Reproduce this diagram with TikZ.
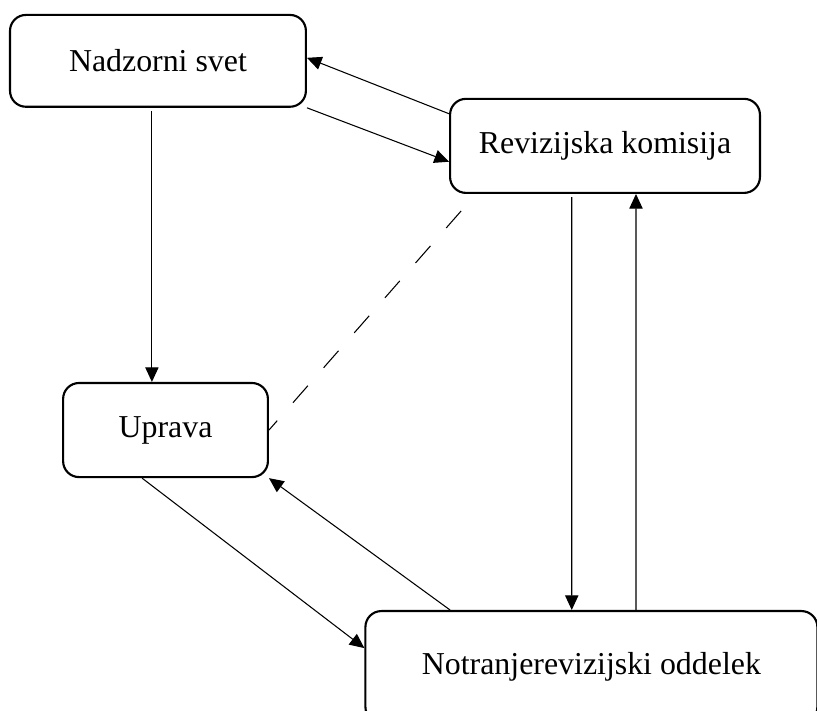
\documentclass[tikz,border=0pt]{standalone}
\usepackage{fontspec}
\setmainfont{Liberation Serif}
\usetikzlibrary{arrows.meta, positioning}

\begin{document}
\begin{tikzpicture}[node distance=10cm,
        box/.style={draw, rounded corners=12pt, line width=1.6pt, inner sep=0pt, align=center, font=\fontsize{24}{28}\selectfont},
        link/.style={line width=0.8pt, -{Triangle[length=11pt, width=10pt]}}]
        \useasboundingbox (0,0) rectangle (21.62,-18.79);
        \clip (0,0) rectangle (21.62,-18.79);

        % Nodes
        \node[box, minimum width=7.83cm, minimum height=2.43cm] (nadzorni) at (4.18,-1.61) {Nadzorni svet};
        \node[box, right of=nadzorni, xshift=1.83cm, yshift=-2.25cm, minimum width=8.2cm, minimum height=2.49cm] (revizija) {Revizijska komisija};
        \node[box, below of=nadzorni, xshift=0.2cm, yshift=0.23cm, minimum width=5.42cm, minimum height=2.49cm] (uprava) {Uprava};
        \node[box, below of=revizija, xshift=-0.36cm, yshift=-3.79cm, minimum width=11.96cm, minimum height=2.96cm] (notranje) {Notranjerevizijski oddelek};

        % Top pair of arrows
        \draw[link] (nadzorni.south east) -- ([yshift=-0.42cm]revizija.west);
        \draw[link] ([yshift=0.85cm]revizija.west) -- ([yshift=0.08cm]nadzorni.east);

        % Vertical arrows
        \draw[link] ([xshift=-0.16cm, yshift=-0.08cm]nadzorni.south) -- ([xshift=-0.36cm]uprava.north);
        \draw[link] ([xshift=-0.88cm, yshift=-0.08cm]revizija.south) -- ([xshift=-0.52cm]notranje.north);
        \draw[link] ([xshift=1.18cm]notranje.north) -- ([xshift=0.82cm]revizija.south);

        % Lower pair of arrows
        \draw[link] ([xshift=-0.62cm]uprava.south) -- ([yshift=0.5cm]notranje.west);
        \draw[link] ([xshift=-3.74cm]notranje.north) -- (uprava.south east);

        % Dashed line
        \draw[line width=0.8pt, dash pattern=on 17pt off 18pt] ([shift={(0.32cm,-0.45cm)}]revizija.south west) -- (uprava.east);
    \end{tikzpicture}
\end{document}
